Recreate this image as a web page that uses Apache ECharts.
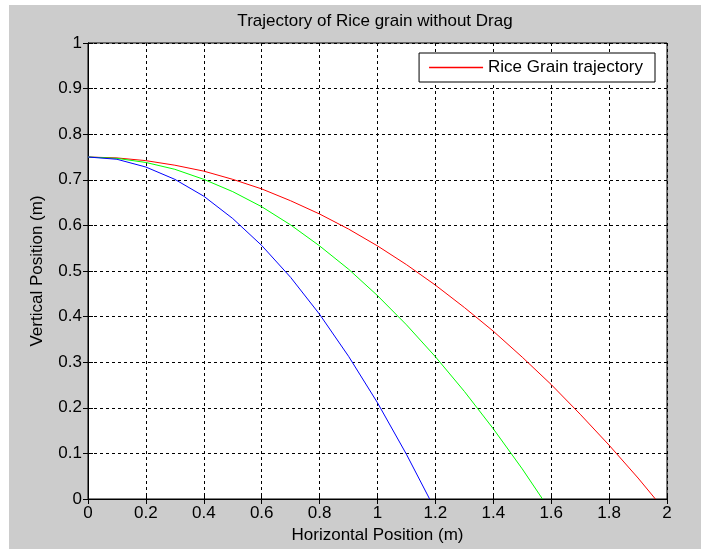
<!DOCTYPE html>
<html>
<head>
<meta charset="utf-8">
<script src="https://cdn.jsdelivr.net/npm/echarts@6/dist/echarts.min.js"></script>
<style>
html,body{margin:0;padding:0;background:#ffffff;width:701px;height:550px;overflow:hidden;}
#c{position:absolute;left:9px;top:5px;width:692px;height:544px;background:#cccccc;}
</style>
</head>
<body>
<div id="c"></div>
<script>
// Values
const titleText = "Trajectory of Rice grain without Drag";
const xAxisName = "Horizontal Position (m)";
const yAxisName = "Vertical Position (m)";
const legendName = "Rice Grain trajectory";

const redX   = [0, 0.1, 0.2, 0.3, 0.4, 0.5, 0.6, 0.7, 0.8, 0.9, 1.0, 1.1, 1.2, 1.3, 1.4, 1.5, 1.6, 1.7, 1.8, 1.9, 1.96];
const redY   = [0.75, 0.748, 0.742, 0.732, 0.719, 0.701, 0.680, 0.654, 0.625, 0.592, 0.555, 0.514, 0.469, 0.420, 0.368, 0.311, 0.251, 0.186, 0.118, 0.046, 0];
const greenX = [0, 0.1, 0.2, 0.3, 0.4, 0.5, 0.6, 0.7, 0.8, 0.9, 1.0, 1.1, 1.2, 1.3, 1.4, 1.5, 1.57];
const greenY = [0.75, 0.747, 0.738, 0.723, 0.701, 0.674, 0.641, 0.601, 0.555, 0.504, 0.446, 0.382, 0.312, 0.236, 0.154, 0.066, 0];
const blueX  = [0, 0.1, 0.2, 0.3, 0.4, 0.5, 0.6, 0.7, 0.8, 0.9, 1.0, 1.1, 1.18];
const blueY  = [0.75, 0.745, 0.728, 0.701, 0.664, 0.615, 0.556, 0.486, 0.405, 0.313, 0.211, 0.098, 0];

function pairs(xs, ys){ return xs.map((x,i)=>[x, ys[i]]); }
const fmt = v => String(parseFloat(v.toFixed(1)));
const FONT = "Liberation Sans";
const FS = 17;

const chart = echarts.init(document.getElementById('c'));
const axisLine = {show:true, lineStyle:{color:'#000', width:1}};
const tick = {show:true, inside:true, length:5, lineStyle:{color:'#000'}};
const grid = {show:true, lineStyle:{color:'#000', type:[3,3], width:1}};

chart.setOption({
  backgroundColor:'#cccccc',
  animation:false,
  title:{text:titleText, left:366, textAlign:'center', top:8, padding:0,
    textStyle:{fontFamily:FONT, fontSize:FS, fontWeight:'normal', color:'#000'}},
  legend:{
    data:[{name:legendName, icon:'rect', itemStyle:{color:'#ff0000', borderWidth:0}}],
    right:46, top:48,
    backgroundColor:'#fff', borderColor:'#000', borderWidth:1, borderRadius:0,
    padding:[6,12,6,10], itemWidth:54, itemHeight:1.5, itemGap:5,
    textStyle:{fontFamily:FONT, fontSize:FS, color:'#000', padding:[0,0,0,0]}
  },
  grid:{left:79, right:34, top:38, bottom:50, show:true, backgroundColor:'#fff', borderColor:'#000', borderWidth:1},
  xAxis:[
    {type:'value', min:0, max:2, interval:0.2, position:'bottom',
     name:xAxisName, nameLocation:'middle', nameGap:28,
     nameTextStyle:{fontFamily:FONT, fontSize:FS, color:'#000'},
     axisLine:axisLine, axisTick:tick, splitLine:grid,
     axisLabel:{formatter:fmt, fontFamily:FONT, fontSize:FS, color:'#000', margin:6}},
    {type:'value', min:0, max:2, interval:0.2, position:'top',
     axisLine:axisLine, axisTick:tick, splitLine:{show:false}, axisLabel:{show:false}}
  ],
  yAxis:[
    {type:'value', min:0, max:1, interval:0.1, position:'left',
     name:yAxisName, nameLocation:'middle', nameGap:42,
     nameTextStyle:{fontFamily:FONT, fontSize:FS, color:'#000'},
     axisLine:axisLine, axisTick:tick, splitLine:grid,
     axisLabel:{formatter:fmt, fontFamily:FONT, fontSize:FS, color:'#000', margin:6}},
    {type:'value', min:0, max:1, interval:0.1, position:'right',
     axisLine:axisLine, axisTick:tick, splitLine:{show:false}, axisLabel:{show:false}}
  ],
  series:[
    {name:legendName, type:'line', data:pairs(redX, redY), showSymbol:false, smooth:false,
     color:'#ff0000', lineStyle:{color:'#ff0000', width:1}, itemStyle:{color:'#ff0000'}, z:3},
    {name:'green', type:'line', data:pairs(greenX, greenY), showSymbol:false,
     color:'#00ff00', lineStyle:{color:'#00ff00', width:1}, itemStyle:{color:'#00ff00'}, z:3},
    {name:'blue', type:'line', data:pairs(blueX, blueY), showSymbol:false,
     color:'#0000ff', lineStyle:{color:'#0000ff', width:1}, itemStyle:{color:'#0000ff'}, z:3}
  ]
});
</script>
</body>
</html>
